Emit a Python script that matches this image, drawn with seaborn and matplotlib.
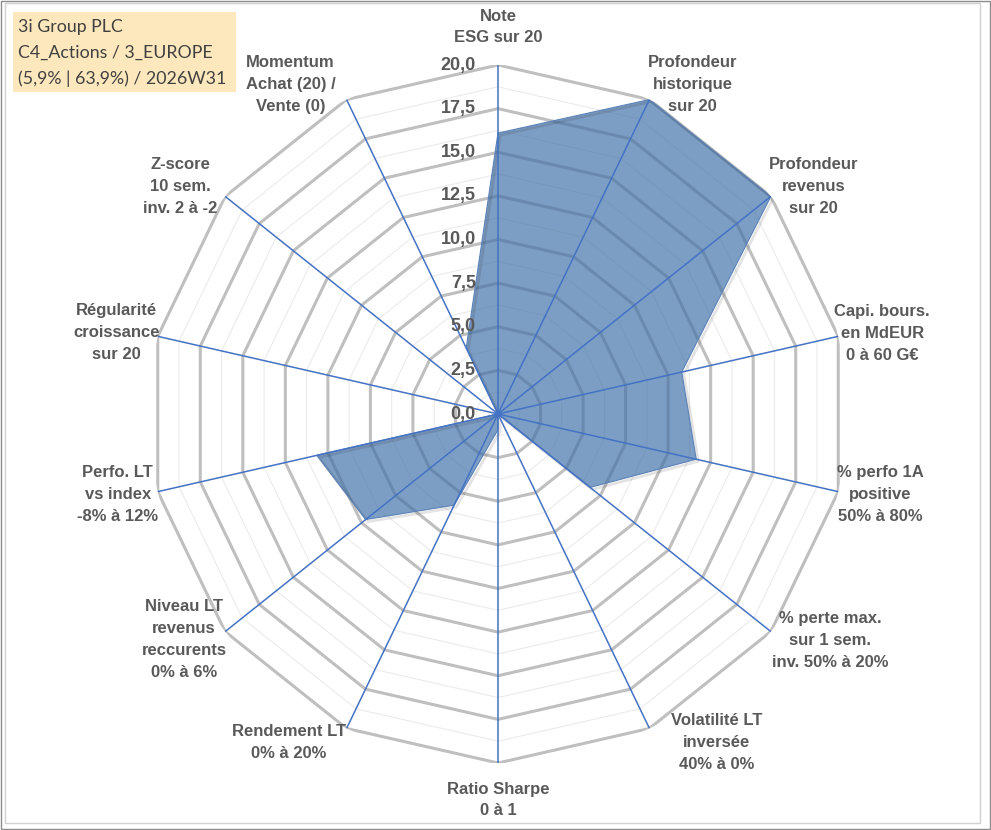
import numpy as np
import matplotlib
matplotlib.use("Agg")
import matplotlib.pyplot as plt
import seaborn as sns
from matplotlib import patheffects as pe
from matplotlib.patches import Rectangle

# ---------------- data ----------------
categories = [
    "Note\nESG sur 20",
    "Profondeur\nhistorique\nsur 20",
    "Profondeur\nrevenus\nsur 20",
    "Capi. bours.\nen MdEUR\n0 à 60 G€",
    "% perfo 1A\npositive\n50% à 80%",
    "% perte max.\nsur 1 sem.\ninv. 50% à 20%",
    "Volatilité LT\ninversée\n40% à 0%",
    "Ratio Sharpe\n0 à 1",
    "Rendement LT\n0% à 20%",
    "Niveau LT\nrevenus\nreccurents\n0% à 6%",
    "Perfo. LT\nvs index\n-8% à 12%",
    "Régularité\ncroissance\nsur 20",
    "Z-score\n10 sem.\ninv. 2 à -2",
    "Momentum\nAchat (20) /\nVente (0)",
]
scores = [16.1, 20.0, 20.0, 10.8, 11.65, 6.75, 0.0, 0.9, 5.8, 9.7, 10.65, 0.0, 0.0, 4.2]

major_ticks = [0.0, 2.5, 5.0, 7.5, 10.0, 12.5, 15.0, 17.5, 20.0]
major_labels = ["0,0", "2,5", "5,0", "7,5", "10,0", "12,5", "15,0", "17,5", "20,0"]
minor_ticks = [1.25, 3.75, 6.25, 8.75, 11.25, 13.75, 16.25, 18.75]

title_lines = ["3i Group PLC", "C4_Actions / 3_EUROPE", "(5,9% | 63,9%) / 2026W31"]

# layout: label-centre offsets from the outer vertex, in pixels (x right, y down)
label_offsets_px = [(0, -38), (43, -15), (43, -10), (44, -3), (42, 3), (59, 9),
                    (67, 14), (0, 37), (-58, 14), (-41, 8), (-40, 3), (-41, -4),
                    (-45, -10), (-56, -15)]

# ---------------- style ----------------
sns.set_theme(style="white")
plt.rcParams["font.family"] = ["Liberation Sans", "DejaVu Sans"]

W, H = 991, 830
fig = plt.figure(figsize=(W / 100, H / 100), dpi=100)
fig.patch.set_facecolor("white")

# polar axes placed so the centre is ~ (498, 414) px and r=20 -> 349 px
cx, cy, R = 498, 414, 349
ax = fig.add_axes([(cx - R) / W, (H - cy - R) / H, 2 * R / W, 2 * R / H],
                  projection="polar")
ax.set_theta_zero_location("N")
ax.set_theta_direction(-1)
ax.set_ylim(0, 20)
ax.grid(False)
ax.set_xticks([])
ax.set_yticks([])
ax.spines["polar"].set_visible(False)
ax.patch.set_alpha(0)

n = len(categories)
theta = np.arange(n) * 2 * np.pi / n
theta_c = np.append(theta, theta[0])

spoke_col = "#4472C4"
ring_col = "#BFBFBF"
minor_col = "#EBEBEB"

for v in minor_ticks:
    ax.plot(theta_c, [v] * (n + 1), color=minor_col, lw=0.8, zorder=1)
for v in major_ticks[1:]:
    ax.plot(theta_c, [v] * (n + 1), color=ring_col, lw=2.2, zorder=2,
            solid_joinstyle="miter")

# data polygon
vals_c = np.append(scores, scores[0])
ax.fill(theta_c, vals_c, color="#4070A8", alpha=0.68, zorder=3, lw=0)
ax.plot(theta_c, vals_c, color="#5A82B8", lw=0.8, zorder=3.5,
        path_effects=[pe.SimpleLineShadow(offset=(1.5, -1.5), alpha=0.12,
                                          linewidth=2.0), pe.Normal()])

# spokes
for t in theta:
    ax.plot([t, t], [0, 20], color=spoke_col, lw=1.1, zorder=4)

# radial tick labels
for v, lab in zip(major_ticks, major_labels):
    ax.annotate(lab, xy=(0, v), xytext=(-16, 0), textcoords="offset points",
                ha="right", va="center", fontsize=13, fontweight="bold",
                color="#595959", zorder=6, annotation_clip=False)

# category labels
for t, lab, (ox, oy) in zip(theta, categories, label_offsets_px):
    ax.annotate(lab, xy=(t, 20), xytext=(ox * 0.72, -oy * 0.72),
                textcoords="offset points", ha="center", va="center",
                multialignment="center", fontsize=12, fontweight="bold",
                color="#595959", linespacing=1.58, annotation_clip=False,
                zorder=6)

# title box
fig.add_artist(Rectangle((13 / W, 1 - 92 / H), (236 - 13) / W, (92 - 12) / H,
                         transform=fig.transFigure, facecolor="#FDE8BD",
                         edgecolor="none", zorder=0))
for i, line in enumerate(title_lines):
    fig.text(18 / W, 1 - (27 + 26 * i) / H, line, ha="left", va="center",
             fontsize=12.8, color="#404040", family=["Lato", "DejaVu Sans"])

# outer frame
fig.add_artist(Rectangle((5 / W, 1 - 823 / H), (980 - 5) / W, (823 - 3) / H,
                         transform=fig.transFigure, facecolor="none",
                         edgecolor="#D0D0D0", lw=1.0, zorder=0))
fig.add_artist(Rectangle((1 / W, 1 / H), (W - 2) / W, (H - 2) / H,
                         transform=fig.transFigure, facecolor="none",
                         edgecolor="#8C8C8C", lw=1.0, zorder=0))

fig.savefig("out.png", dpi=100)
